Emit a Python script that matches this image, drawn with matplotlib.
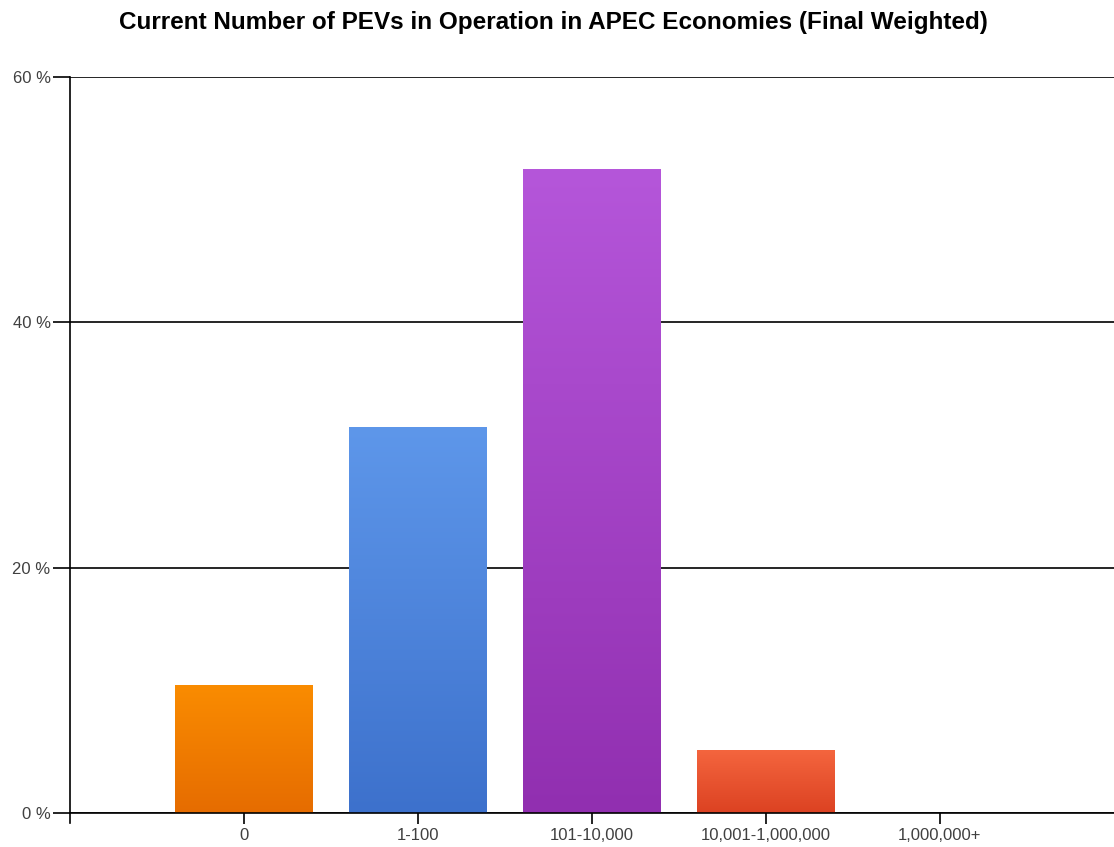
import numpy as np
import matplotlib.pyplot as plt
from matplotlib.colors import LinearSegmentedColormap

categories = ["0", "1-100", "101-10,000", "10,001-1,000,000", "1,000,000+"]
shares = [10.4, 31.5, 52.5, 5.1, 0.0]
# top colour, bottom colour for each bar
top_colors = ["#fa8c00", "#5e97ea", "#b556da", "#f4653e", "#999999"]
bottom_colors = ["#e66c00", "#3d71cc", "#912fb0", "#dc4222", "#999999"]

plt.rcParams["font.family"] = ["Liberation Sans", "DejaVu Sans"]

fig = plt.figure(figsize=(11.14, 8.47), dpi=100)
ax = fig.add_axes([0.0628, 0.0401, 0.9372, 0.8689])

x = np.arange(len(categories))
bars = ax.bar(x, shares, width=0.79, color="none", zorder=3)

grad = np.linspace(1, 0, 256).reshape(-1, 1)
for bar, c_top, c_bot in zip(bars, top_colors, bottom_colors):
    h = bar.get_height()
    if h <= 0:
        continue
    cmap = LinearSegmentedColormap.from_list("g", [c_bot, c_top])
    x0 = bar.get_x()
    im = ax.imshow(grad, cmap=cmap, aspect="auto", zorder=3,
                   extent=[x0, x0 + bar.get_width(), 0, h])
    im.set_clip_path(bar)

ax.set_xlim(-1, 5)
ax.set_ylim(0, 60)
ax.set_yticks([0, 20, 40, 60])
ax.set_yticklabels(["0 %", "20 %", "40 %", "60 %"])
ax.set_xticks(x)
ax.set_xticklabels(categories)
ax.grid(axis="y", color="black", linewidth=1.2, zorder=1)
ax.tick_params(axis="y", length=12, width=1.2, labelsize=12, labelcolor="#404040", pad=2)
ax.tick_params(axis="x", length=8, width=1.2, labelsize=12, labelcolor="#404040", pad=3)

for side in ["top", "right"]:
    ax.spines[side].set_visible(False)
ax.spines["left"].set_linewidth(1.2)
ax.spines["bottom"].set_linewidth(1.2)
ax.spines["left"].set_bounds(-0.8, 60)
ax.spines["left"].set_zorder(4)
ax.spines["bottom"].set_zorder(4)

fig.text(0.497, 0.973, "Current Number of PEVs in Operation in APEC Economies (Final Weighted)",
         ha="center", va="center", fontsize=17.5, fontweight="bold")

fig.savefig("out.png", dpi=100)
